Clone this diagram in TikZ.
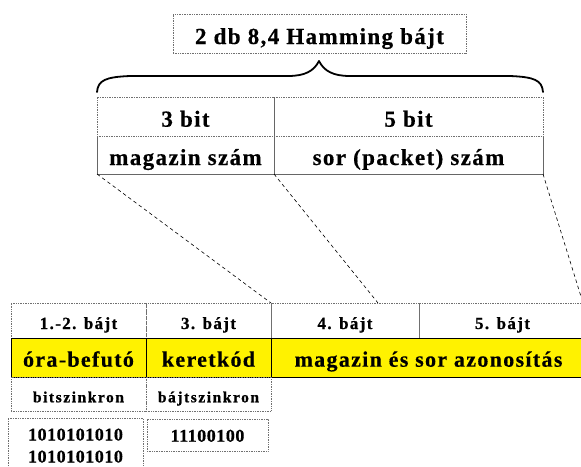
\documentclass[tikz,border=0pt]{standalone}
\usepackage{fontspec}
\setmainfont{Liberation Serif}
\newfontfamily\bigf{Liberation Serif}[LetterSpace=6, BoldFeatures={FakeBold=0.4}]
\newfontfamily\smallf{Liberation Serif}[LetterSpace=8, BoldFeatures={FakeBold=0.8}]
\newfontfamily\tinyf{Liberation Serif}[LetterSpace=10, BoldFeatures={FakeBold=0.9}]
\newfontfamily\digf{Liberation Serif}[LetterSpace=3, BoldFeatures={FakeBold=0.6}]
\definecolor{lineg}{HTML}{666666}
\definecolor{dotg}{HTML}{707070}
\tikzset{
  cell/.style={rectangle, inner sep=0pt, outer sep=0pt, text depth=0pt},
  dotbox/.style={cell, draw=dotg, densely dotted, line width=0.7pt},
  plainbox/.style={cell},
  yellowbox/.style={cell, fill=yellow, draw=black, line width=0.9pt},
  bigtxt/.style={font=\bigf\bfseries\fontsize{23}{26}\selectfont},
  midtxt/.style={font=\bigf\bfseries\fontsize{22}{25}\selectfont},
  smalltxt/.style={font=\smallf\bfseries\fontsize{17}{20}\selectfont},
  tinytxt/.style={font=\tinyf\bfseries\fontsize{15.5}{18}\selectfont},
  digtxt/.style={font=\digf\bfseries\fontsize{18}{23}\selectfont},
  solidedge/.style={draw=lineg, line width=0.9pt},
  guide/.style={draw=black, line width=0.6pt, dash pattern=on 3.5pt off 3pt},
  bracepath/.style={draw=black, line width=1.8pt, line cap=round, line join=round}
}
\begin{document}
\begin{tikzpicture}[x=1pt, y=-1pt]
\clip (0,0) rectangle (581,466);
\fill[white] (0,0) rectangle (581,466);

% header box
\node[dotbox, bigtxt, minimum width=293pt, minimum height=39pt, text height=21pt] (ham) at (319.5,33.5) {2 db 8,4 Hamming bájt};

% curly brace below the header
\draw[bracepath] (97,92) .. controls (98,80) and (106,77) .. (130,76)
  -- (288,76) .. controls (305,76) and (314,71) .. (319,61)
  .. controls (324,71) and (333,76) .. (350,76)
  -- (510,76) .. controls (534,77) and (542,80) .. (543,92);

% upper table: bit counts
\node[plainbox, bigtxt, minimum width=177pt, minimum height=38pt, text height=20pt] (magsz) at (185.5,155) {magazin szám};
\node[plainbox, bigtxt, minimum width=269pt, minimum height=38pt, text height=20pt] (sorsz) at (408.5,155) {sor (packet) szám};
\draw[solidedge] (magsz.north west) -- (magsz.south west) -- (sorsz.south east) -- (sorsz.north east);
\draw[solidedge] (magsz.south east) -- (magsz.north east);
\node[dotbox, bigtxt, minimum width=177pt, minimum height=39pt, text height=20.4pt] (bit3) at (185.5,116.5) {3 bit};
\node[dotbox, bigtxt, minimum width=269pt, minimum height=39pt, text height=20.4pt] (bit5) at (408.5,116.5) {5 bit};
\draw[solidedge] (bit3.north east) -- (bit3.south east);

% lower table: byte numbers
\node[dotbox, smalltxt, minimum width=135pt, minimum height=35pt, text height=17pt] (b12) at (78.5,320.5) {1.-2. bájt};
\node[dotbox, smalltxt, minimum width=125pt, minimum height=35pt, text height=17pt] (b3) at (208.5,320.5) {3. bájt};
\node[dotbox, smalltxt, minimum width=148pt, minimum height=35pt, text height=17pt] (b4) at (345,320.5) {4. bájt};
\node[dotbox, smalltxt, minimum width=167pt, minimum height=35pt, text height=17pt] (b5) at (502.5,320.5) {5. bájt};
\draw[draw=dotg, line width=0.9pt] (b4.north east) -- (b4.south east);

% yellow row
\node[yellowbox, midtxt, minimum width=135pt, minimum height=39pt, text height=18.4pt] (ora) at (78.5,357.5) {óra-befutó};
\node[yellowbox, midtxt, minimum width=125pt, minimum height=39pt, text height=18.4pt] (ker) at (208.5,357.5) {keretkód};
\node[yellowbox, midtxt, minimum width=315pt, minimum height=39pt, text height=18.4pt] (maz) at (428.5,357.5) {magazin és sor azonosítás};

% synchronisation row
\node[dotbox, tinytxt, minimum width=135pt, minimum height=34pt, text height=16.6pt] (bsz) at (78.5,394) {bitszinkron};
\node[dotbox, tinytxt, minimum width=125pt, minimum height=34pt, text height=16.6pt] (bjsz) at (208.5,394) {bájtszinkron};

% bit patterns
\node[dotbox, minimum width=135pt, minimum height=57pt] (pat1) at (75.5,446.5) {};
\node[digtxt, cell, anchor=base] (pat1a) at (75.5,440.5) {1010101010};
\node[digtxt, cell, anchor=base] (pat1b) at (75.5,462.5) {1010101010};
\node[dotbox, digtxt, minimum width=121pt, minimum height=32pt, text height=13.4pt] (pat2) at (207.5,435) {11100100};

% guide lines from the upper table to the bytes
\coordinate (b4in) at (378,303);
\coordinate (b5end) at (583,303);
\draw[guide] (magsz.south west) -- (b4.north west);
\draw[guide] (magsz.south east) -- (b4in);
\draw[guide] (sorsz.south east) -- (b5end);
\end{tikzpicture}
\end{document}
